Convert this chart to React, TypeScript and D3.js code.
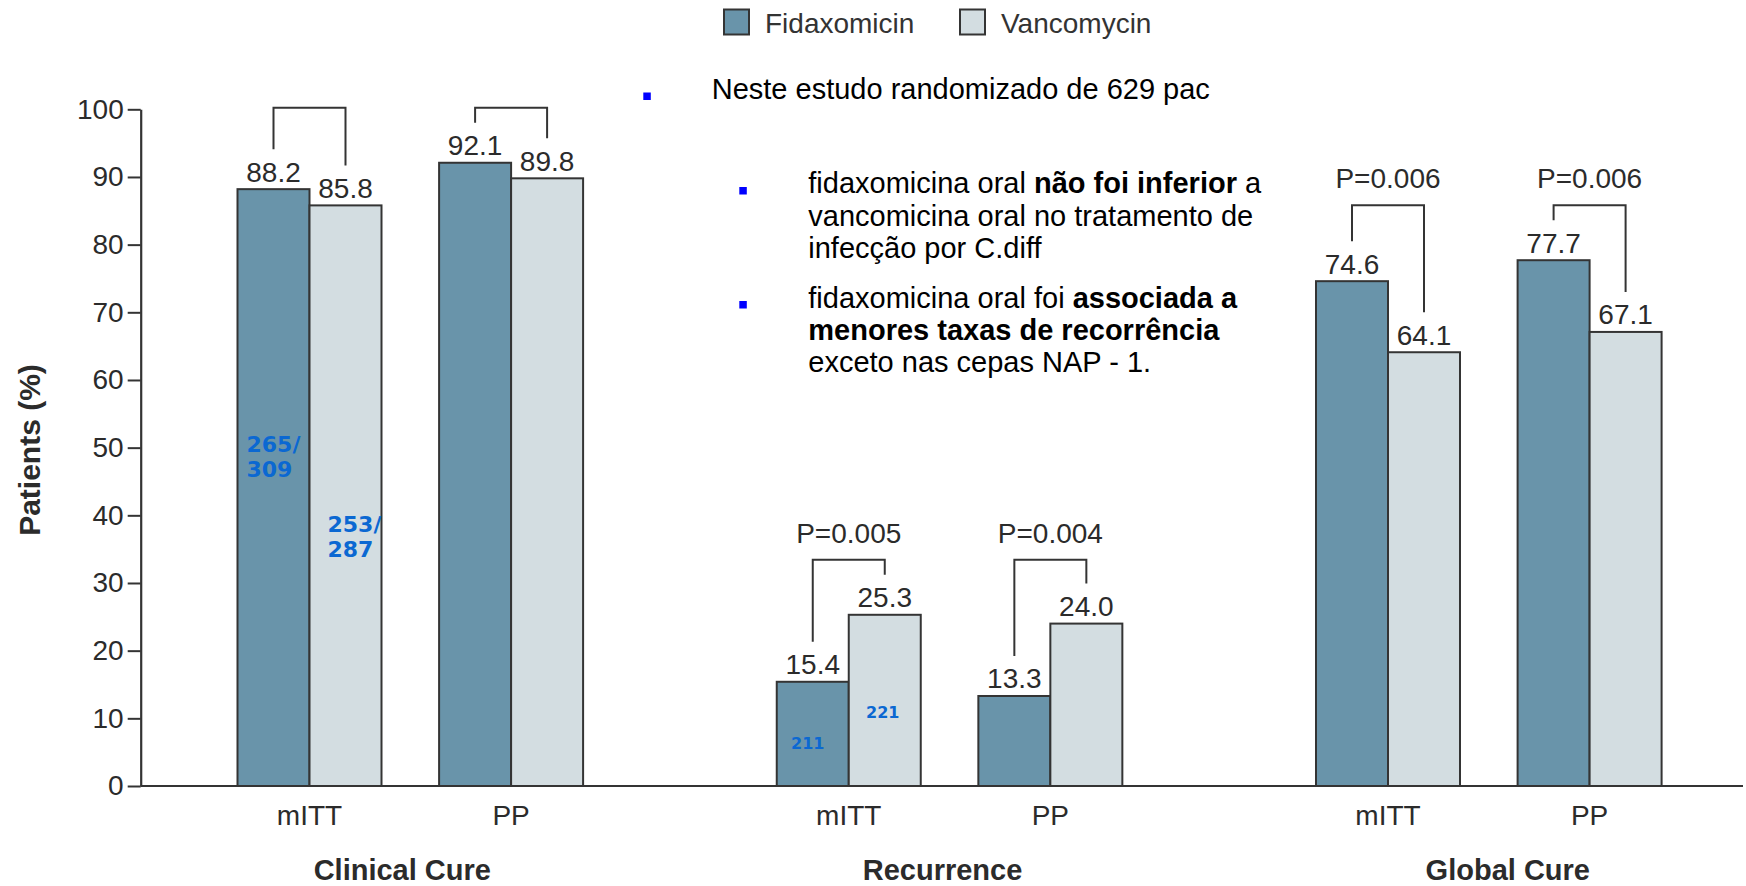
import React, { useEffect, useRef } from "react";
import * as d3 from "d3";

// ---------- data ----------
const groups = ["Clinical Cure", "Recurrence", "Global Cure"];
const subgroups = ["mITT", "PP"];
const seriesNames = ["Fidaxomicin", "Vancomycin"];
const fidaxomicin = [88.2, 92.1, 15.4, 13.3, 74.6, 77.7];
const vancomycin = [85.8, 89.8, 25.3, 24.0, 64.1, 67.1];
const pValues = ["", "", "P=0.005", "P=0.004", "P=0.006", "P=0.006"];
const yTicks = [0, 10, 20, 30, 40, 50, 60, 70, 80, 90, 100];
const countLabels = [
  { bar: 0, series: 0, lines: ["265/", "309"], at: 49.4 },
  { bar: 0, series: 1, lines: ["253/", "287"], at: 37.6 },
  { bar: 2, series: 0, lines: ["211"], at: 5.5 },
  { bar: 2, series: 1, lines: ["221"], at: 10.0 },
];
const headline = "Neste estudo randomizado de 629 pac";

// ---------- styles ----------
const W = 1746;
const H = 886;
const FONT = "'Liberation Sans', Arial, sans-serif";
const TXT = "#2b2b2b";
const EDGE = "#343434";
const colors = ["#6994aa", "#d3dde1"];
const groupLabelNudge = [-8, -7, 19];

export default function App() {
  const yAxisRef = useRef<SVGGElement>(null);

  const y = d3.scaleLinear().domain([0, 100]).range([786, 109.3]);
  const xGroup = d3.scalePoint<string>().domain(groups).range([410.3, 1488.8]);
  const xSub = d3.scalePoint<string>().domain(subgroups).range([-100.8, 100.8]);
  const xSeries = d3.scaleBand<string>().domain(seriesNames).range([-72, 72]).padding(0);
  const legendX = d3.scalePoint<string>().domain(seriesNames).range([724, 960]);
  const axisX = 140.7;

  const seriesValues = [fidaxomicin, vancomycin];
  const pairs = groups.flatMap((g, gi) =>
    subgroups.map((s, si) => ({
      g,
      s,
      idx: gi * subgroups.length + si,
      cx: (xGroup(g) as number) + (xSub(s) as number),
    }))
  );

  useEffect(() => {
    if (!yAxisRef.current) return;
    const g = d3.select(yAxisRef.current);
    g.selectAll("*").remove();
    g.call(
      d3
        .axisLeft(y)
        .tickValues(yTicks)
        .tickSize(13)
        .tickSizeOuter(0)
        .tickPadding(4)
        .tickFormat(d3.format("d"))
    );
    g.select(".domain").attr("stroke", EDGE).attr("stroke-width", 2.2);
    g.selectAll(".tick line").attr("stroke", EDGE).attr("stroke-width", 2);
    g.selectAll(".tick text")
      .attr("fill", TXT)
      .style("font-family", FONT)
      .style("font-size", "28px");
  }, []);

  const barX = (cx: number, k: number) => cx + (xSeries(seriesNames[k]) as number);
  const bw = xSeries.bandwidth();

  return (
    <svg
      width={W}
      height={H}
      style={{ position: "absolute", left: 0, top: 0, display: "block", background: "#fff" }}
    >
      {/* legend */}
      {seriesNames.map((n, k) => (
        <g key={n}>
          <rect
            x={legendX(n)}
            y={9.5}
            width={25}
            height={25}
            fill={colors[k]}
            stroke={EDGE}
            strokeWidth={2}
          />
          <text
            x={(legendX(n) as number) + 41}
            y={32.5}
            fontFamily={FONT}
            fontSize={28}
            fill="#333"
          >
            {n}
          </text>
        </g>
      ))}

      {/* y axis */}
      <g ref={yAxisRef} transform={`translate(${axisX},0)`} />
      <text
        transform={`translate(40,450) rotate(-90)`}
        textAnchor="middle"
        fontFamily={FONT}
        fontWeight="bold"
        fontSize={30}
        fill={TXT}
      >
        Patients (%)
      </text>

      {/* bars */}
      {pairs.map((p) =>
        seriesValues.map((vals, k) => (
          <rect
            key={`${p.idx}-${k}`}
            x={barX(p.cx, k)}
            y={y(vals[p.idx])}
            width={bw}
            height={y(0) - y(vals[p.idx])}
            fill={colors[k]}
            stroke={EDGE}
            strokeWidth={2}
          />
        ))
      )}

      {/* x baseline */}
      <line x1={axisX} x2={1743} y1={y(0)} y2={y(0)} stroke={EDGE} strokeWidth={2.2} />

      {/* value labels */}
      {pairs.map((p) =>
        seriesValues.map((vals, k) => (
          <text
            key={`v-${p.idx}-${k}`}
            x={barX(p.cx, k) + bw / 2}
            y={y(vals[p.idx]) - 7.5}
            textAnchor="middle"
            fontFamily={FONT}
            fontSize={28}
            fill={TXT}
          >
            {vals[p.idx].toFixed(1)}
          </text>
        ))
      )}

      {/* brackets and P values */}
      {groups.map((g) => {
        const gPairs = pairs.filter((p) => p.g === g);
        const gMax = d3.max(gPairs.flatMap((p) => seriesValues.map((v) => v[p.idx]))) as number;
        const top = y(gMax) - 55;
        return gPairs.map((p) => {
          const xl = barX(p.cx, 0) + bw / 2;
          const xr = barX(p.cx, 1) + bw / 2;
          const yl = y(fidaxomicin[p.idx]) - 40;
          const yr = y(vancomycin[p.idx]) - 40;
          return (
            <g key={`b-${p.idx}`}>
              <path
                d={`M${xl},${yl}V${top}H${xr}V${yr}`}
                fill="none"
                stroke={EDGE}
                strokeWidth={2}
              />
              {pValues[p.idx] && (
                <text
                  x={(xl + xr) / 2}
                  y={top - 17}
                  textAnchor="middle"
                  fontFamily={FONT}
                  fontSize={28}
                  fill={TXT}
                >
                  {pValues[p.idx]}
                </text>
              )}
            </g>
          );
        });
      })}

      {/* subgroup labels */}
      {pairs.map((p) => (
        <text
          key={`s-${p.idx}`}
          x={p.cx}
          y={825}
          textAnchor="middle"
          fontFamily={FONT}
          fontSize={28}
          fill={TXT}
        >
          {p.s}
        </text>
      ))}

      {/* group labels */}
      {groups.map((g, gi) => (
        <text
          key={g}
          x={(xGroup(g) as number) + groupLabelNudge[gi]}
          y={880}
          textAnchor="middle"
          fontFamily={FONT}
          fontWeight="bold"
          fontSize={29}
          fill={TXT}
        >
          {g}
        </text>
      ))}

      {/* blue count annotations */}
      {countLabels.map((c, i) => {
        const p = pairs[c.bar];
        const multi = c.lines.length > 1;
        const left = barX(p.cx, c.series);
        const x = multi ? left + (c.series === 0 ? 9 : 18) : left + bw / 2 - (c.series === 0 ? 5 : 2);
        return (
          <text
            key={`c-${i}`}
            x={x}
            y={y(c.at)}
            textAnchor={multi ? "start" : "middle"}
            fontFamily="'DejaVu Sans', Verdana, sans-serif"
            fontWeight="bold"
            fontSize={multi ? 22 : 16}
            fill="#0b68d2"
          >
            {c.lines.map((l, j) => (
              <tspan key={j} x={x} dy={j === 0 ? 0 : 25}>
                {l}
              </tspan>
            ))}
          </text>
        );
      })}

      {/* Portuguese bullet text */}
      <g fontFamily={FONT} fontSize={29} fill="#000">
        <rect x={643.3} y={92.5} width={7.5} height={7.5} fill="#0000ff" />
        <text x={711.7} y={99}>{headline}</text>

        <rect x={739.3} y={187} width={7.5} height={7.5} fill="#0000ff" />
        <text x={808.3} y={193}>
          fidaxomicina oral <tspan fontWeight="bold">não foi inferior</tspan> a
        </text>
        <text x={808.3} y={225.5}>vancomicina oral no tratamento de</text>
        <text x={808.3} y={258}>infecção por C.diff</text>

        <rect x={739.3} y={301} width={7.5} height={7.5} fill="#0000ff" />
        <text x={808.3} y={308}>
          fidaxomicina oral foi <tspan fontWeight="bold">associada a</tspan>
        </text>
        <text x={808.3} y={340} fontWeight="bold">menores taxas de recorrência</text>
        <text x={808.3} y={372}>exceto nas cepas NAP - 1.</text>
      </g>
    </svg>
  );
}
